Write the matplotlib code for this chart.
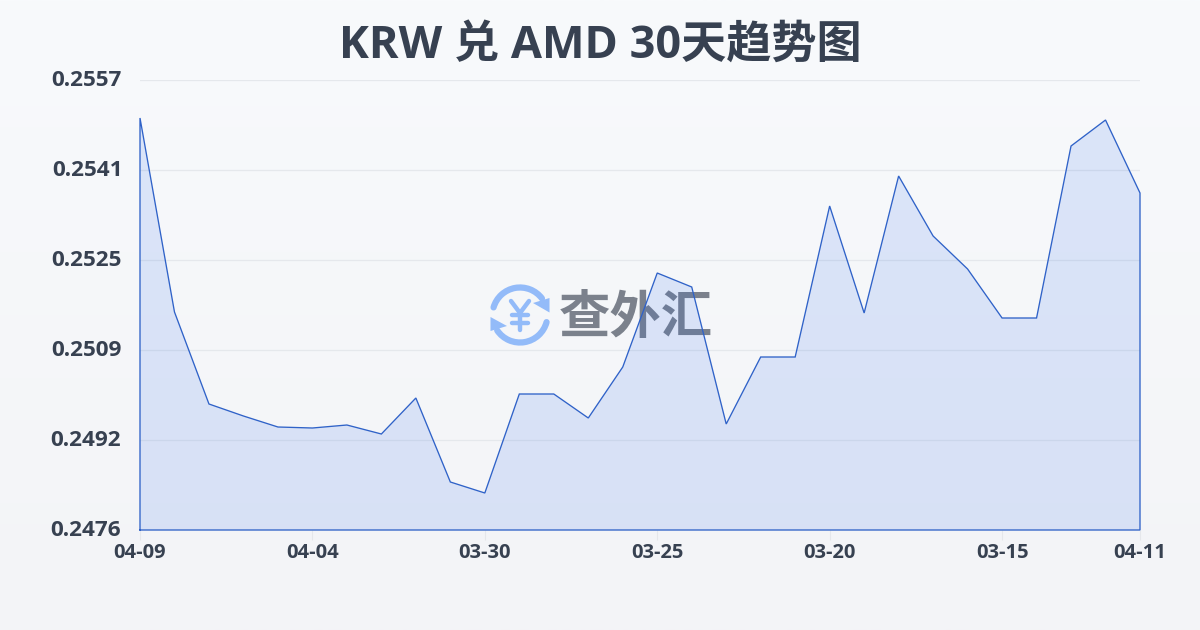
import numpy as np
import matplotlib
matplotlib.use("Agg")
import matplotlib.pyplot as plt
from matplotlib.patches import Arc, Polygon
from matplotlib.transforms import ScaledTranslation

plt.rcParams['font.family'] = ['Open Sans', 'Noto Sans CJK SC', 'DejaVu Sans']

title = "KRW 兑 AMD 30天趋势图"
watermark = "查外汇"
dates = ["04-09", "04-04", "03-30", "03-25", "03-20", "03-15", "04-11"]
date_index = [0, 5, 10, 15, 20, 25, 29]
y_tick_values = [0.2476, 0.24922, 0.25084, 0.25246, 0.25408, 0.2557]
y_tick_labels = ["0.2476", "0.2492", "0.2509", "0.2525", "0.2541", "0.2557"]
rates = [0.255016, 0.251524, 0.249868, 0.249652, 0.249454, 0.249436, 0.249490,
         0.249328, 0.249976, 0.248464, 0.248266, 0.250048, 0.250048, 0.249616,
         0.250534, 0.252226, 0.251974, 0.249508, 0.250714, 0.250714, 0.253432,
         0.251506, 0.253972, 0.252892, 0.252298, 0.251416, 0.251416, 0.254512,
         0.254980, 0.253666]

W, H = 1200, 630
fig = plt.figure(figsize=(12, 6.3), dpi=100)

# background gradient
bg = fig.add_axes([0, 0, 1, 1], zorder=0)
bg.axis('off')
top = np.array([0xf8, 0xfa, 0xfc]) / 255
bot = np.array([0xf3, 0xf4, 0xf7]) / 255
t = np.linspace(0, 1, 256)[:, None, None]
bg.imshow(top + (bot - top) * t, aspect='auto', extent=(0, 1, 0, 1), origin='upper')

# overlay in pixel coords for the watermark
wm = fig.add_axes([0, 0, 1, 1], zorder=1)
wm.set_xlim(0, W); wm.set_ylim(H, 0); wm.axis('off'); wm.patch.set_alpha(0)
blue = '#93bbf9'
cx, cy, r = 520, 315, 27.5
# y axis is inverted, so angles run clockwise on screen
wm.add_patch(Arc((cx, cy), 2*r, 2*r, theta1=196, theta2=323, color=blue, lw=4.5, capstyle='round'))
wm.add_patch(Arc((cx, cy), 2*r, 2*r, theta1=15, theta2=146, color=blue, lw=4.5, capstyle='round'))
wm.add_patch(Polygon([[549.5, 298], [549.5, 312.5], [533, 303]], color=blue, lw=0))
wm.add_patch(Polygon([[490.5, 317], [490.5, 331], [507, 326]], color=blue, lw=0))
for xs, ys in [([511, 520, 529], [301, 313, 301]), ([520, 520], [313, 330]),
               ([512, 528], [315, 315]), ([512, 528], [323, 323])]:
    wm.plot(xs, ys, color=blue, lw=3.2, solid_capstyle='round', solid_joinstyle='round')
wm.set_xlim(0, W); wm.set_ylim(H, 0)
wm.text(635.5, 317, watermark, color='#7b818c', fontsize=37, fontweight='bold', ha='center', va='center',
        family=['Noto Sans CJK SC'])

# chart
ax = fig.add_axes([140 / W, 1 - 530 / H, 1000 / W, 450 / H], zorder=2)
ax.patch.set_alpha(0)
x = np.arange(len(rates))
ax.fill_between(x, rates, 0.2476, facecolor=(0.145, 0.388, 0.922, 0.135), edgecolor='none')
ax.plot(np.r_[x[0], x, x[-1], x[0]], np.r_[0.2476, rates, 0.2476, 0.2476], color='#2f62c8', lw=0.95,
        solid_joinstyle='miter', clip_on=False)
ax.set_xlim(0, 29)
ax.set_ylim(0.2476, 0.2557)
for s in ax.spines.values():
    s.set_visible(False)
ax.set_axisbelow(True)
ax.yaxis.grid(True, color='#e5e8ec', lw=0.9)
ax.set_yticks(y_tick_values)
ax.set_yticklabels(y_tick_labels, fontsize=16.2, fontweight='bold', color='#374151')
ax.set_xticks(date_index)
ax.set_xticklabels(dates, fontsize=14.5, fontweight='bold', color='#374151')
ax.tick_params(axis='y', length=0, pad=13.5)
ax.tick_params(axis='x', length=7, width=0.8, color='#e5e7eb', pad=2.5)
for lab, text in zip(ax.get_yticklabels(), y_tick_labels):
    dx = 1.5 if text == "0.2541" else 0
    lab.set_transform(lab.get_transform() + ScaledTranslation(dx / 72, 1.5 / 72, fig.dpi_scale_trans))
fig.text(600 / W, 1 - 46 / H, title, fontsize=32.5, fontweight='bold', color='#374151', ha='center', va='center')

fig.savefig("out.png", dpi=100)
